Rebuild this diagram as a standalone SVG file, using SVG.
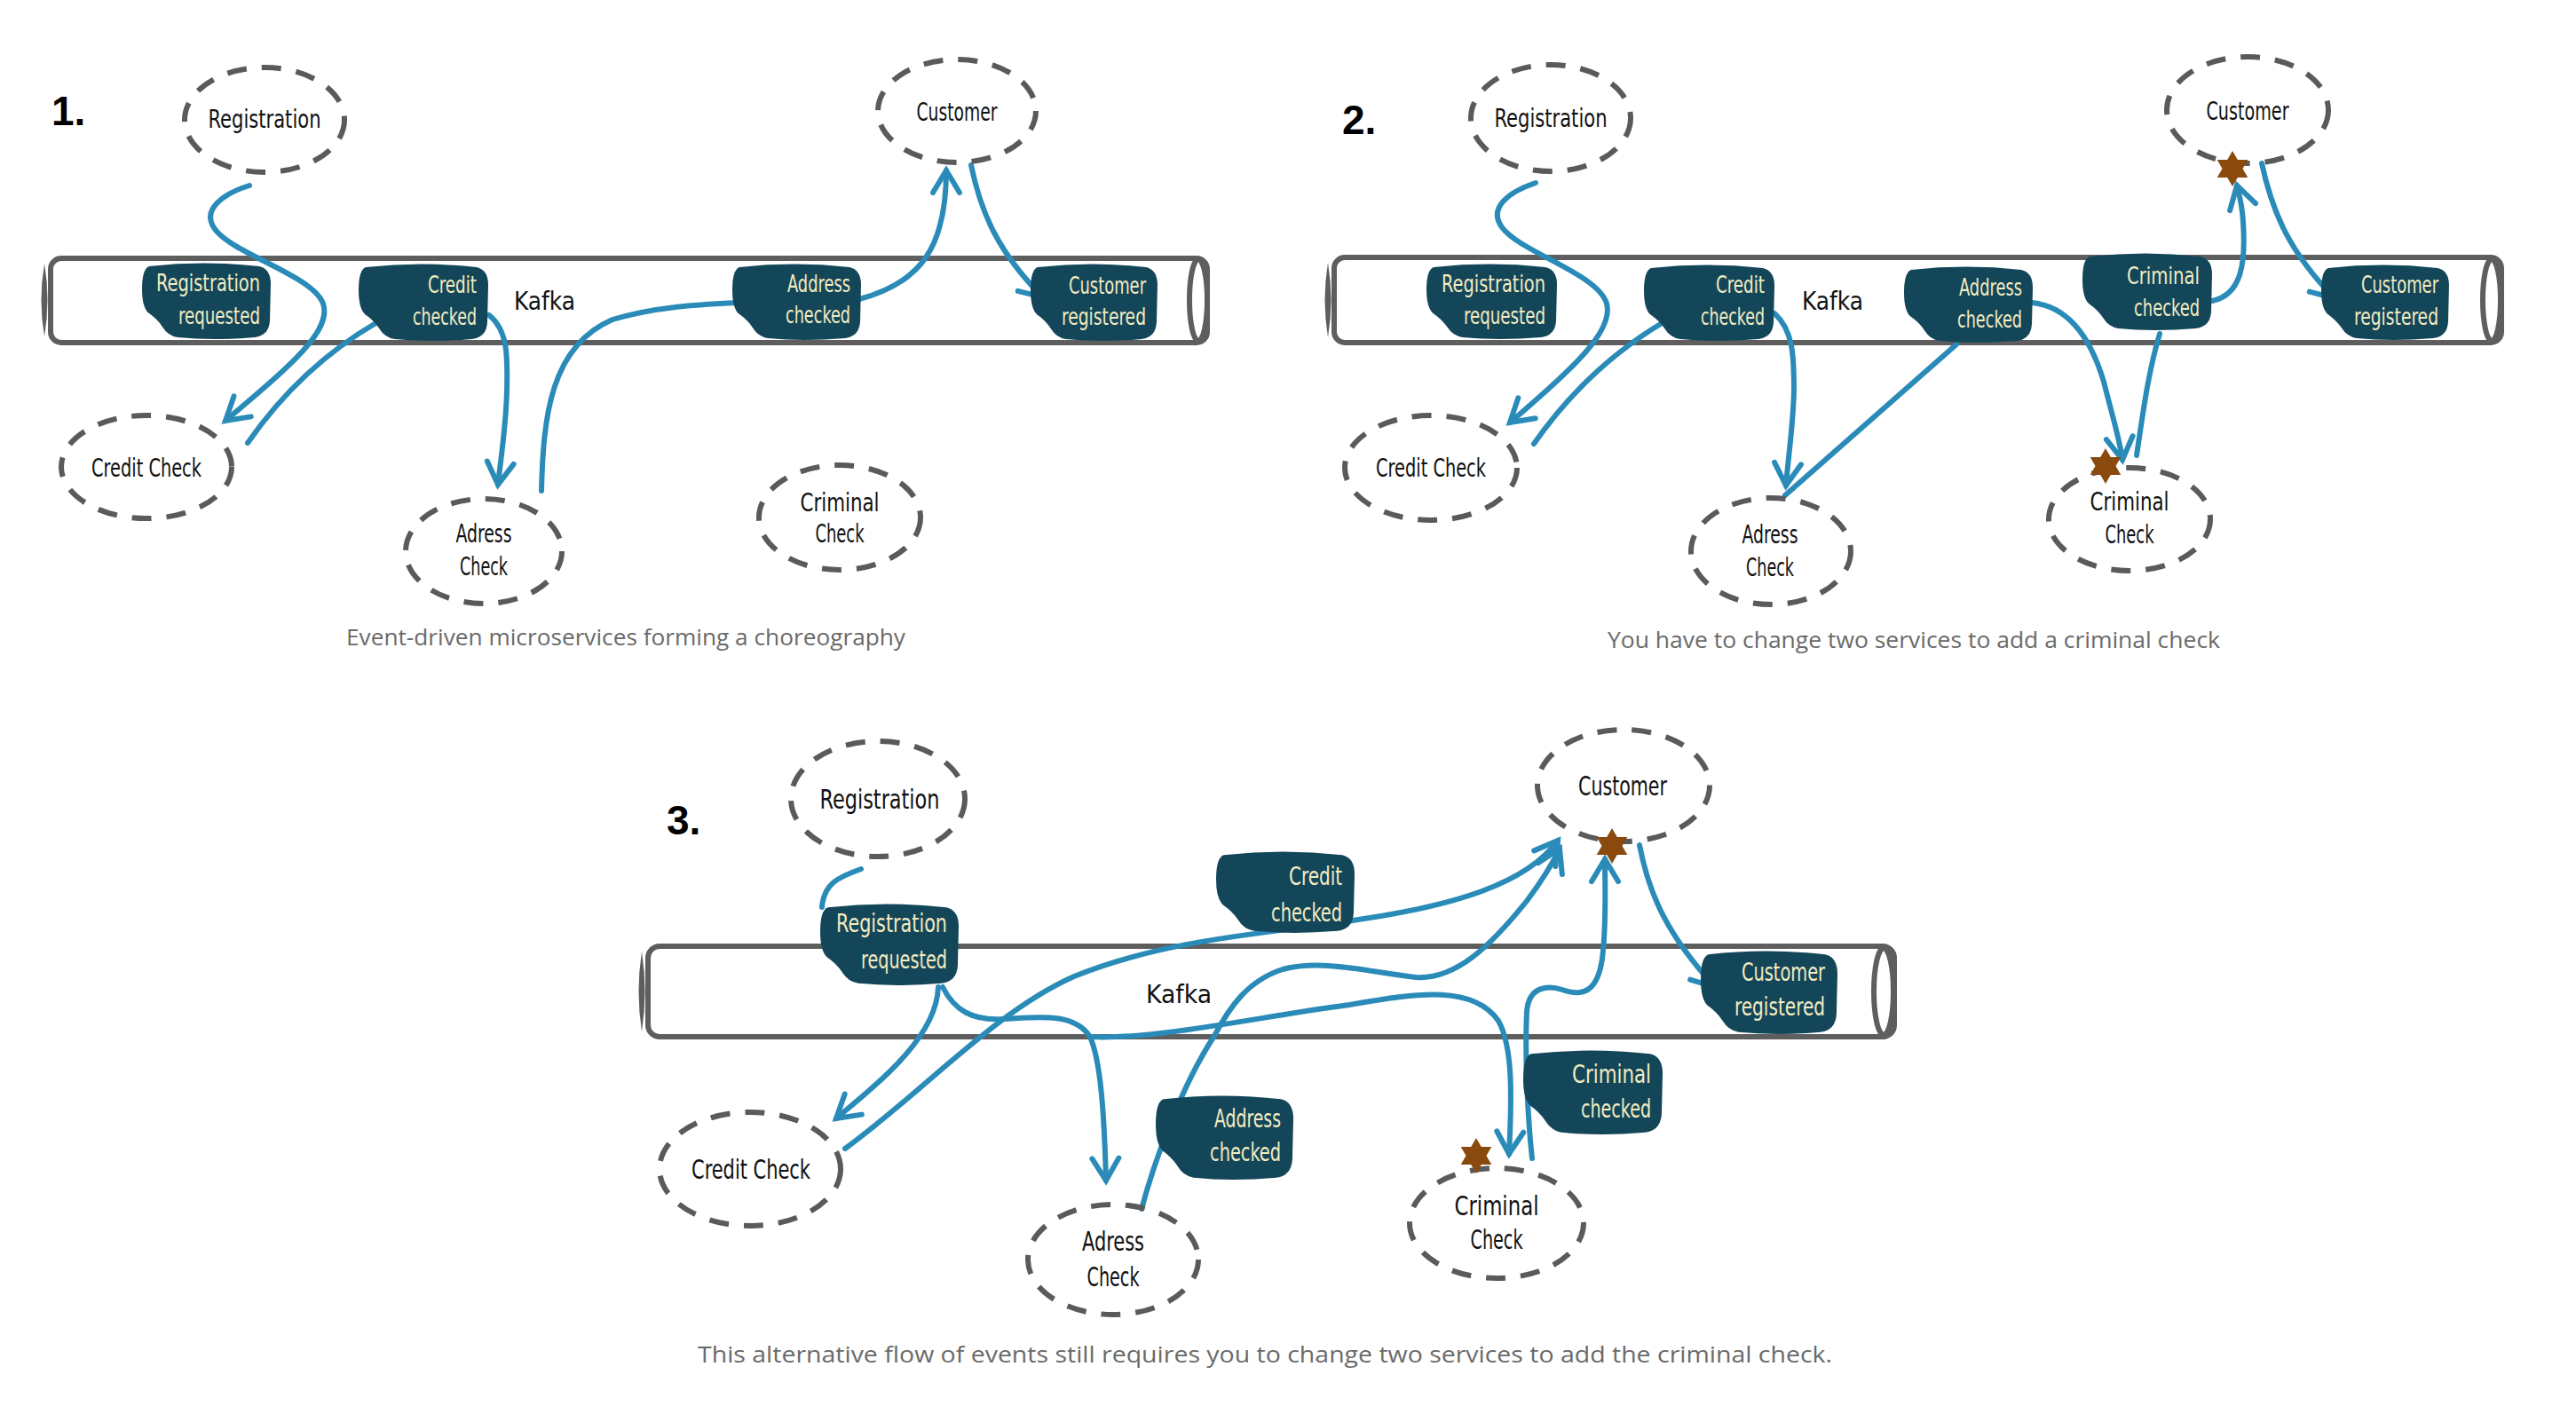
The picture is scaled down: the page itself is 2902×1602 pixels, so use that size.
<svg xmlns="http://www.w3.org/2000/svg" xmlns:xlink="http://www.w3.org/1999/xlink" width="2902" height="1602" viewBox="0 0 2902 1602">
<style>
.n{fill:none;stroke:#5a5a5a;stroke-width:6;stroke-dasharray:22 17}
.t{font-family:"Liberation Sans Narrow","DejaVu Sans Condensed","Liberation Sans",sans-serif;font-size:29px;fill:#111;text-anchor:middle}
.t3{font-size:31px}
.k{font-family:"Liberation Sans Narrow","DejaVu Sans Condensed","Liberation Sans",sans-serif;font-size:29px;fill:#111}
.b{fill:#14465a}
.bt{font-family:"Liberation Sans Narrow","DejaVu Sans Condensed","Liberation Sans",sans-serif;font-size:26px;fill:#f3ecc0;text-anchor:end}
.bt3{font-size:28px}
.c{fill:none;stroke:#2a8bb8;stroke-width:6;stroke-linecap:round;stroke-linejoin:round}
.a{marker-end:url(#ah)}
.tube{fill:#fff;stroke:#5e5e5e;stroke-width:6}
.lens{fill:#5e5e5e}
.cap{font-family:"Open Sans","Liberation Sans",sans-serif;font-size:26px;fill:#6a6a6a;text-anchor:middle}
.num{font-family:"Liberation Sans",sans-serif;font-weight:bold;font-size:46px;fill:#000}
.star{fill:#8a4a0e}
</style>
<defs>
<marker id="ah" markerUnits="userSpaceOnUse" markerWidth="60" markerHeight="60" viewBox="-40 -30 60 60" refX="0" refY="0" orient="auto" overflow="visible">
<path d="M-25,-15 L0,0 L-25,15" fill="none" stroke="#2a8bb8" stroke-width="6" stroke-linecap="round" stroke-linejoin="miter"/>
</marker>
<path id="blob" d="M8,4 Q70,-3 132,4 Q145,7 145,24 L144,66 Q143,83 127,85 Q80,89 40,85 Q29,83 23,73 Q17,64 7,57 Q0,50 0,30 Q0,7 8,4Z"/>
<path id="star" d="M0,-20 L5.8,-10 L17.3,-10 L11.5,0 L17.3,10 L5.8,10 L0,20 L-5.8,10 L-17.3,10 L-11.5,0 L-17.3,-10 L-5.8,-10Z"/>
</defs>
<rect width="2902" height="1602" fill="#fff"/>

<!-- panel numbers and captions -->
<text class="num" x="58" y="141">1.</text>
<text class="num" x="1512" y="151">2.</text>
<text class="num" x="751" y="940">3.</text>
<text class="cap" x="705" y="727" textLength="630" lengthAdjust="spacingAndGlyphs">Event-driven microservices forming a choreography</text>
<text class="cap" x="2156" y="730" textLength="690" lengthAdjust="spacingAndGlyphs">You have to change two services to add a criminal check</text>
<text class="cap" x="1425" y="1535" textLength="1278" lengthAdjust="spacingAndGlyphs">This alternative flow of events still requires you to change two services to add the criminal check.</text>

<!-- Kafka tubes -->
<g id="kafka1">
<rect class="tube" x="57" y="291" width="1303" height="95" rx="12"/>
<ellipse class="tube" cx="1350" cy="338" rx="10" ry="46"/>
<path class="lens" d="M50,297 Q57,338 50,379 Q43,338 50,297Z"/>
<text class="k" x="579" y="349" textLength="69" lengthAdjust="spacingAndGlyphs">Kafka</text>
</g>
<g id="kafka2">
<rect class="tube" x="1503" y="290" width="1315" height="96" rx="12"/>
<ellipse class="tube" cx="2807" cy="338" rx="10" ry="46"/>
<path class="lens" d="M1496,296 Q1503,338 1496,380 Q1489,338 1496,296Z"/>
<text class="k" x="2030" y="349" textLength="69" lengthAdjust="spacingAndGlyphs">Kafka</text>
</g>
<g id="kafka3">
<rect class="tube" x="730" y="1066" width="1404" height="102" rx="13"/>
<ellipse class="tube" cx="2122" cy="1117" rx="11" ry="49"/>
<path class="lens" d="M723,1072 Q730,1117 723,1162 Q716,1117 723,1072Z"/>
<text class="k" x="1291" y="1130" textLength="74" lengthAdjust="spacingAndGlyphs">Kafka</text>
</g>

<!-- connectors -->
<g id="connectors">
<!-- panel 1 -->
<path class="c a" d="M281,209 C252,218 226,236 242,258 C262,286 352,310 364,342 C374,372 330,410 254,474"/>
<path class="c" d="M279,499 C320,440 370,395 425,363"/>
<path class="c a" d="M551,355 C572,372 572,400 571,440 C570,480 565,510 561,546"/>
<path class="c" d="M610,553 C612,470 620,390 690,360 C740,345 790,343 830,341"/>
<path class="c a" d="M968,337 C1040,318 1066,275 1066,192"/>
<path class="c a" d="M1094,186 C1105,240 1125,285 1175,335"/>
<!-- panel 2 -->
<path class="c a" d="M1730,206 C1700,216 1676,234 1692,256 C1712,284 1800,308 1810,342 C1818,372 1776,412 1701,476"/>
<path class="c" d="M1728,500 C1770,440 1820,395 1874,363"/>
<path class="c a" d="M1999,353 C2020,372 2021,400 2021,440 C2020,480 2015,510 2012,547"/>
<path class="c" d="M2011,558 L2204,388"/>
<path class="c a" d="M2289,341 C2330,345 2355,380 2370,430 C2380,470 2388,495 2391,518"/>
<path class="c" d="M2407,513 C2415,460 2420,420 2433,376"/>
<path class="c a" d="M2492,339 C2526,332 2530,295 2527,250 C2526,232 2523,220 2520,209"/>
<path class="c a" d="M2548,184 C2560,240 2580,285 2630,336"/>
<!-- panel 3 -->
<path class="c" d="M970,979 C945,988 928,995 926,1022"/>
<path class="c a" d="M1057,1112 C1055,1165 1000,1212 942,1260"/>
<path class="c a" d="M1062,1112 C1075,1138 1095,1150 1130,1148 C1170,1146 1210,1140 1228,1168 C1240,1195 1244,1255 1246,1330"/>
<path class="c a" d="M1228,1168 C1300,1172 1420,1145 1520,1132 C1600,1118 1660,1110 1688,1150 C1705,1180 1703,1240 1700,1300"/>
<path class="c a" d="M952,1294 C1040,1230 1120,1140 1210,1100 C1320,1055 1450,1050 1530,1036 C1640,1020 1720,995 1755,947"/>
<path class="c a" d="M1286,1362 C1300,1310 1330,1225 1368,1167 C1385,1135 1405,1105 1445,1092 C1490,1080 1540,1095 1595,1101 C1640,1104 1680,1065 1720,1015 C1735,995 1748,975 1757,956"/>
<path class="c a" d="M1726,1305 C1720,1250 1718,1180 1720,1140 C1722,1110 1745,1110 1760,1115 C1785,1124 1800,1115 1805,1080 C1810,1040 1808,1000 1808,968"/>
<path class="c a" d="M1847,952 C1858,1010 1880,1055 1932,1112"/>
</g>

<!-- panel 1 events -->
<g id="p1-registration-requested"><use xlink:href="#blob" class="b" transform="translate(160,296) scale(1,0.989)"/>
<text class="bt" x="293" y="328" textLength="117" lengthAdjust="spacingAndGlyphs">Registration</text>
<text class="bt" x="293" y="365" textLength="92" lengthAdjust="spacingAndGlyphs">requested</text></g>
<g id="p1-credit-checked"><use xlink:href="#blob" class="b" transform="translate(404,297) scale(1.007,1)"/>
<text class="bt" x="537" y="330" textLength="55" lengthAdjust="spacingAndGlyphs">Credit</text>
<text class="bt" x="537" y="366" textLength="72" lengthAdjust="spacingAndGlyphs">checked</text></g>
<g id="p1-address-checked"><use xlink:href="#blob" class="b" transform="translate(825,297) scale(1,0.989)"/>
<text class="bt" x="958" y="329" textLength="71" lengthAdjust="spacingAndGlyphs">Address</text>
<text class="bt" x="958" y="364" textLength="73" lengthAdjust="spacingAndGlyphs">checked</text></g>
<g id="p1-customer-registered"><use xlink:href="#blob" class="b" transform="translate(1161,297) scale(0.986,1)"/>
<text class="bt" x="1291" y="331" textLength="87" lengthAdjust="spacingAndGlyphs">Customer</text>
<text class="bt" x="1291" y="366" textLength="95" lengthAdjust="spacingAndGlyphs">registered</text></g>

<!-- panel 1 services -->
<g id="p1-registration"><ellipse class="n" cx="298" cy="135" rx="90" ry="59"/><text class="t" x="298" y="144" textLength="127" lengthAdjust="spacingAndGlyphs">Registration</text></g>
<g id="p1-customer"><ellipse class="n" cx="1078" cy="125" rx="89" ry="58"/><text class="t" x="1078" y="136" textLength="91" lengthAdjust="spacingAndGlyphs">Customer</text></g>
<g id="p1-credit-check"><ellipse class="n" cx="165" cy="526" rx="96" ry="58"/><text class="t" x="165" y="537" textLength="124" lengthAdjust="spacingAndGlyphs">Credit Check</text></g>
<g id="p1-adress-check"><ellipse class="n" cx="545" cy="621" rx="88" ry="59"/><text class="t" x="545" y="611" textLength="63" lengthAdjust="spacingAndGlyphs">Adress</text><text class="t" x="545" y="648" textLength="54" lengthAdjust="spacingAndGlyphs">Check</text></g>
<g id="p1-criminal-check"><ellipse class="n" cx="946" cy="583" rx="91" ry="59"/><text class="t" x="946" y="576" textLength="89" lengthAdjust="spacingAndGlyphs">Criminal</text><text class="t" x="946" y="611" textLength="55" lengthAdjust="spacingAndGlyphs">Check</text></g>

<!-- panel 2 events -->
<g id="p2-registration-requested"><use xlink:href="#blob" class="b" transform="translate(1607,297) scale(1.014,0.977)"/>
<text class="bt" x="1741" y="329" textLength="117" lengthAdjust="spacingAndGlyphs">Registration</text>
<text class="bt" x="1741" y="365" textLength="92" lengthAdjust="spacingAndGlyphs">requested</text></g>
<g id="p2-credit-checked"><use xlink:href="#blob" class="b" transform="translate(1852,298) scale(1.014,0.989)"/>
<text class="bt" x="1988" y="330" textLength="55" lengthAdjust="spacingAndGlyphs">Credit</text>
<text class="bt" x="1988" y="366" textLength="72" lengthAdjust="spacingAndGlyphs">checked</text></g>
<g id="p2-address-checked"><use xlink:href="#blob" class="b" transform="translate(2145,300) scale(1,0.989)"/>
<text class="bt" x="2278" y="333" textLength="71" lengthAdjust="spacingAndGlyphs">Address</text>
<text class="bt" x="2278" y="369" textLength="73" lengthAdjust="spacingAndGlyphs">checked</text></g>
<g id="p2-criminal-checked"><use xlink:href="#blob" class="b" transform="translate(2346,285) scale(1.007,1)"/>
<text class="bt" x="2478" y="320" textLength="82" lengthAdjust="spacingAndGlyphs">Criminal</text>
<text class="bt" x="2478" y="356" textLength="74" lengthAdjust="spacingAndGlyphs">checked</text></g>
<g id="p2-customer-registered"><use xlink:href="#blob" class="b" transform="translate(2615,298) scale(0.993,0.977)"/>
<text class="bt" x="2747" y="330" textLength="87" lengthAdjust="spacingAndGlyphs">Customer</text>
<text class="bt" x="2747" y="366" textLength="95" lengthAdjust="spacingAndGlyphs">registered</text></g>

<!-- panel 2 services -->
<g id="p2-registration"><ellipse class="n" cx="1747" cy="133" rx="90" ry="60"/><text class="t" x="1747" y="143" textLength="127" lengthAdjust="spacingAndGlyphs">Registration</text></g>
<g id="p2-customer"><ellipse class="n" cx="2532" cy="124" rx="91" ry="60"/><text class="t" x="2532" y="135" textLength="93" lengthAdjust="spacingAndGlyphs">Customer</text></g>
<g id="p2-credit-check"><ellipse class="n" cx="1612" cy="527" rx="97" ry="59"/><text class="t" x="1612" y="537" textLength="124" lengthAdjust="spacingAndGlyphs">Credit Check</text></g>
<g id="p2-adress-check"><ellipse class="n" cx="1995" cy="621" rx="90" ry="60"/><text class="t" x="1994" y="612" textLength="63" lengthAdjust="spacingAndGlyphs">Adress</text><text class="t" x="1994" y="649" textLength="54" lengthAdjust="spacingAndGlyphs">Check</text></g>
<g id="p2-criminal-check"><ellipse class="n" cx="2399" cy="585" rx="91" ry="58"/><text class="t" x="2399" y="575" textLength="89" lengthAdjust="spacingAndGlyphs">Criminal</text><text class="t" x="2399" y="612" textLength="55" lengthAdjust="spacingAndGlyphs">Check</text></g>
<use id="p2-star-customer" xlink:href="#star" class="star" transform="translate(2515,190)"/>
<use id="p2-star-criminal" xlink:href="#star" class="star" transform="translate(2372,525)"/>

<!-- panel 3 events -->
<g id="p3-registration-requested"><use xlink:href="#blob" class="b" transform="translate(924,1018) scale(1.076,1.057)"/>
<text class="bt bt3" x="1067" y="1050" textLength="125" lengthAdjust="spacingAndGlyphs">Registration</text>
<text class="bt bt3" x="1067" y="1091" textLength="97" lengthAdjust="spacingAndGlyphs">requested</text></g>
<g id="p3-credit-checked"><use xlink:href="#blob" class="b" transform="translate(1370,959) scale(1.076,1.057)"/>
<text class="bt bt3" x="1512" y="997" textLength="60" lengthAdjust="spacingAndGlyphs">Credit</text>
<text class="bt bt3" x="1512" y="1038" textLength="80" lengthAdjust="spacingAndGlyphs">checked</text></g>
<g id="p3-address-checked"><use xlink:href="#blob" class="b" transform="translate(1302,1234) scale(1.069,1.092)"/>
<text class="bt bt3" x="1443" y="1270" textLength="75" lengthAdjust="spacingAndGlyphs">Address</text>
<text class="bt bt3" x="1443" y="1308" textLength="80" lengthAdjust="spacingAndGlyphs">checked</text></g>
<g id="p3-criminal-checked"><use xlink:href="#blob" class="b" transform="translate(1716,1183) scale(1.083,1.092)"/>
<text class="bt bt3" x="1860" y="1220" textLength="89" lengthAdjust="spacingAndGlyphs">Criminal</text>
<text class="bt bt3" x="1860" y="1259" textLength="79" lengthAdjust="spacingAndGlyphs">checked</text></g>
<g id="p3-customer-registered"><use xlink:href="#blob" class="b" transform="translate(1916,1071) scale(1.062,1.08)"/>
<text class="bt bt3" x="2056" y="1105" textLength="94" lengthAdjust="spacingAndGlyphs">Customer</text>
<text class="bt bt3" x="2056" y="1144" textLength="102" lengthAdjust="spacingAndGlyphs">registered</text></g>

<!-- panel 3 services -->
<g id="p3-registration"><ellipse class="n" cx="989" cy="900" rx="98" ry="65"/><text class="t t3" x="991" y="911" textLength="135" lengthAdjust="spacingAndGlyphs">Registration</text></g>
<g id="p3-customer"><ellipse class="n" cx="1829" cy="885" rx="97" ry="63"/><text class="t t3" x="1828" y="896" textLength="100" lengthAdjust="spacingAndGlyphs">Customer</text></g>
<g id="p3-credit-check"><ellipse class="n" cx="845" cy="1317" rx="102" ry="64"/><text class="t t3" x="846" y="1328" textLength="134" lengthAdjust="spacingAndGlyphs">Credit Check</text></g>
<g id="p3-adress-check"><ellipse class="n" cx="1254" cy="1419" rx="96" ry="62"/><text class="t t3" x="1254" y="1409" textLength="70" lengthAdjust="spacingAndGlyphs">Adress</text><text class="t t3" x="1254" y="1449" textLength="59" lengthAdjust="spacingAndGlyphs">Check</text></g>
<g id="p3-criminal-check"><ellipse class="n" cx="1686" cy="1378" rx="98" ry="62"/><text class="t t3" x="1686" y="1369" textLength="95" lengthAdjust="spacingAndGlyphs">Criminal</text><text class="t t3" x="1686" y="1407" textLength="59" lengthAdjust="spacingAndGlyphs">Check</text></g>
<use id="p3-star-customer" xlink:href="#star" class="star" transform="translate(1816,953)"/>
<use id="p3-star-criminal" xlink:href="#star" class="star" transform="translate(1663,1302)"/>
</svg>
